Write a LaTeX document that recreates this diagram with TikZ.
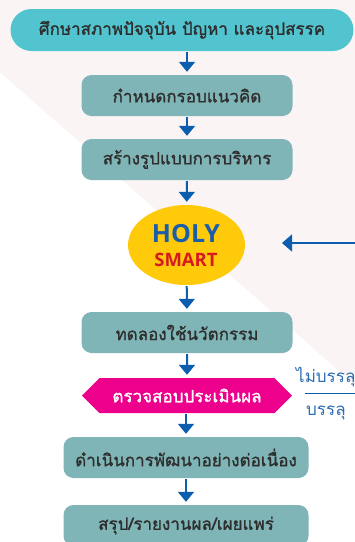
\documentclass[tikz,border=0pt]{standalone}
\usepackage{fontspec}
\newfontfamily\thaifont[Script=Thai]{Loma}
\newfontfamily\thaiboxfont[Script=Thai,FakeBold=1.2]{Loma}
\newfontfamily\headfont{Open Sans}
\usetikzlibrary{arrows.meta,shapes.geometric,shapes.symbols}

\definecolor{bgpink}{HTML}{FAF4F4}
\definecolor{topteal}{HTML}{52C4CF}
\definecolor{boxteal}{HTML}{80B5B7}
\definecolor{flowblue}{HTML}{0B5EAE}
\definecolor{holyyellow}{HTML}{FFCA0A}
\definecolor{holyblue}{HTML}{1A5DAA}
\definecolor{smartred}{HTML}{D71920}
\definecolor{checkpink}{HTML}{EC008C}
\definecolor{darktext}{HTML}{2E2E2E}
\definecolor{sideblue}{HTML}{2D6DB4}

\tikzset{
  stepbox/.style={rectangle, rounded corners=10pt, fill=boxteal, text=darktext,
    minimum height=41pt, inner sep=0pt, font=\thaiboxfont\fontsize{17}{19}\selectfont},
  flow/.style={flowblue, line width=2pt, shorten <=1pt, shorten >=3pt,
    -{Triangle[width=16pt,length=10pt]}},
  sidetext/.style={text=sideblue, inner sep=0pt, anchor=west,
    font=\thaifont\fontsize{17}{19}\selectfont}
}

\begin{document}
\begin{tikzpicture}[x=1pt,y=-1pt]
\clip (0,0) rectangle (355,542);
\fill[white] (0,0) rectangle (355,542);
\fill[bgpink] (0,0) -- (355,0) -- (355,385) -- (0,72) -- cycle;

% main flow
\node[stepbox, fill=topteal, rounded corners=21pt, minimum width=343pt, minimum height=42pt] (study) at (182,30) {ศึกษาสภาพปัจจุบัน ปัญหา และอุปสรรค};
\node[stepbox, minimum width=211pt] (frame) at (187,95.5) {กำหนดกรอบแนวคิด};
\node[stepbox, minimum width=211pt] (model) at (187,159.5) {สร้างรูปแบบการบริหาร};
\node[ellipse, fill=holyyellow, minimum width=117pt, minimum height=80pt, inner sep=0pt] (holy) at (186.5,245) {};
\node[text=holyblue, inner sep=0pt, font=\headfont\bfseries\fontsize{25}{25}\selectfont] (holyword) at (186,234) {HOLY};
\node[text=smartred, inner sep=0pt, font=\headfont\bfseries\fontsize{18.5}{19}\selectfont] (smartword) at (186,260) {SMART};
\node[stepbox, minimum width=211pt] (trial) at (187,332.5) {ทดลองใช้นวัตกรรม};
\node[signal, signal to=west and east, signal pointer angle=90, fill=checkpink, text=white,
  minimum width=210pt, minimum height=35pt, inner sep=0pt,
  font=\thaiboxfont\fontsize{17}{19}\selectfont] (check) at (187,395.5) {ตรวจสอบประเมินผล};
\node[stepbox, minimum width=245pt] (develop) at (186,457.5) {ดำเนินการพัฒนาอย่างต่อเนื่อง};
\node[stepbox, minimum width=245pt] (report) at (186,525.5) {สรุป/รายงานผล/เผยแพร่};

\draw[flow] (study.south -| frame) -- (frame.north);
\draw[flow] (frame) -- (model);
\draw[flow] (model) -- (holy);
\draw[flow] (holy) -- (trial);
\draw[flow] (trial) -- (check);
\draw[flow] (check.south -| develop) -- (develop.north);
\draw[flow] (develop) -- (report);

% decision side
\node[sidetext] (fail) at (296,377) {ไม่บรรลุ};
\node[sidetext] (pass) at (306,413) {บรรลุ};
\coordinate (split) at (305,393.5);
\coordinate (back) at (360,243);
\coordinate (backtip) at (282,243);
\draw[flowblue, line width=1.5pt] (split) -- (split -| back);
\draw[flowblue, line width=1.5pt, -{Triangle[width=17pt,length=10pt]}] (back) -- (backtip);
\end{tikzpicture}
\end{document}
